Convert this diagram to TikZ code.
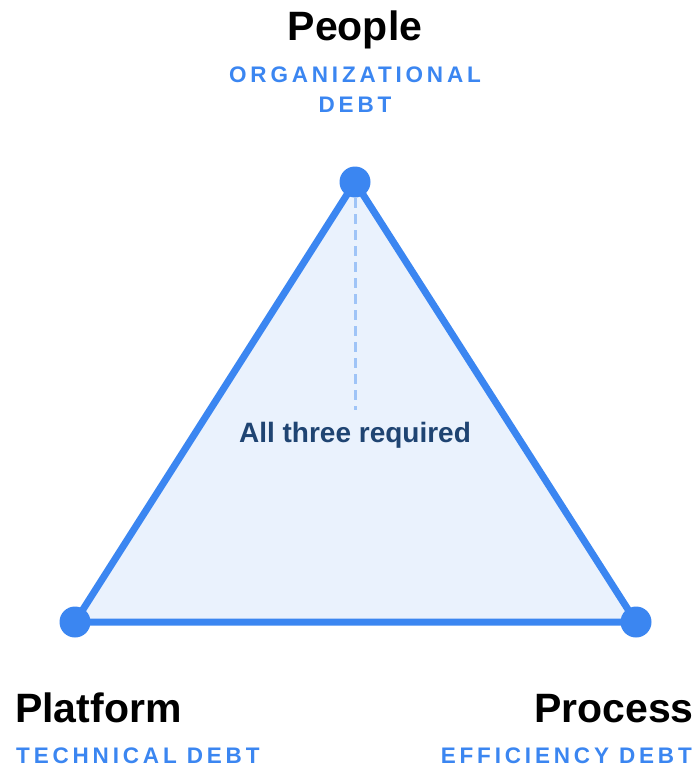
\documentclass[tikz,border=0pt]{standalone}
\usepackage{fontspec}
\setmainfont{Liberation Sans}
\newfontfamily\spacedfont[LetterSpace=17]{Liberation Sans}
\definecolor{triblue}{HTML}{3B86F1}
\definecolor{trifill}{HTML}{EAF2FD}
\definecolor{dashblue}{HTML}{9FC4F7}
\definecolor{navy}{HTML}{1F4472}
\tikzset{
  vertex/.style={circle,fill=triblue,inner sep=0pt,minimum size=31pt},
  title/.style={inner sep=0pt,font=\fontsize{41}{46}\selectfont\bfseries,text=black},
  debt/.style={inner sep=0pt,font=\fontsize{22.5}{30}\spacedfont\bfseries,text=triblue,align=center},
  center label/.style={inner sep=0pt,font=\fontsize{28}{32}\selectfont\bfseries,text=navy},
}
\begin{document}
\begin{tikzpicture}[x=1pt,y=-1pt]
\useasboundingbox (0,0) rectangle (699,768);
\coordinate (topc) at (355,182);
\coordinate (blc) at (75,622);
\coordinate (brc) at (636,622);
\coordinate (dashend) at (355,410);
\fill[trifill] (topc) -- (blc) -- (brc) -- cycle;
\draw[dashblue,line width=3pt,dash pattern=on 10pt off 6pt] ([yshift=-16pt]topc) -- (dashend);
\draw[triblue,line width=7pt,line join=round] (topc) -- (blc) -- (brc) -- cycle;
\node[vertex] (people) at (topc) {};
\node[vertex] (platform) at (blc) {};
\node[vertex] (process) at (brc) {};
\node[title,anchor=base] (peopleT) at (355,41) {People};
\node[debt,anchor=north] (peopleD) at (355,67) {ORGANIZATIONAL\\DEBT};
\node[center label,anchor=base] (req) at (355,442) {All three required};
\node[title,anchor=base west] (platformT) at (15,722) {Platform};
\node[debt,anchor=base west] (platformD) at (16,763) {TECHNICAL DEBT};
\node[title,anchor=base east] (processT) at (694,722) {Process};
\node[debt,anchor=base east] (processD) at (692,763) {EFFICIENCY DEBT};
\end{tikzpicture}
\end{document}
